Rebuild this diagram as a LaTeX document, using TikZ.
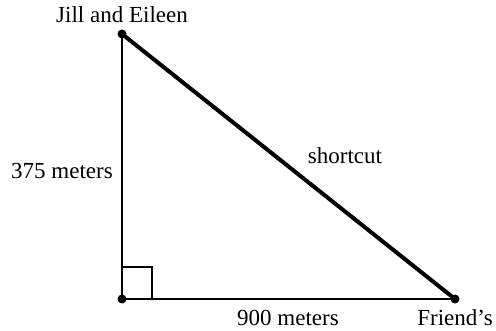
\documentclass[tikz,border=0pt]{standalone}
\usepackage{fontspec}
\setmainfont{Liberation Serif}
\usepackage{tikz}
\usetikzlibrary{positioning,calc}

\tikzset{
  vertex/.style={circle, fill=black, inner sep=0pt, minimum size=9pt},
  leg/.style={line width=2pt},
  hyp/.style={line width=4pt},
  lbl/.style={font=\fontsize{23}{27}\selectfont, inner sep=0pt}
}

\begin{document}
\begin{tikzpicture}[x=1pt, y=1pt]
    \useasboundingbox (0,0) rectangle (496,330);
    % --- vertices ---
    \node[vertex] (home) at (122,296) {};
    \node[vertex] (corner) at (122,31) {};
    \node[vertex] (friend) at (455,31) {};
    % --- sides ---
    \draw[leg] (home.center) -- (corner.center);
    \draw[leg] (corner.center) -- (friend.center);
    \draw[hyp] (home.center) -- (friend.center);
    % --- right angle mark ---
    \draw[leg] ($(corner.center)+(0,32)$) -| ($(corner.center)+(30,0)$);
    % --- labels ---
    \node[lbl] (start) at (122,315) {Jill and Eileen};
    \node[lbl] (height) at (62,159) {375 meters};
    \node[lbl] (short) at (345,174) {shortcut};
    \node[lbl] (base) at (288,12) {900 meters};
    \node[lbl] (dest) at (455,12) {Friend's};
\end{tikzpicture}
\end{document}
